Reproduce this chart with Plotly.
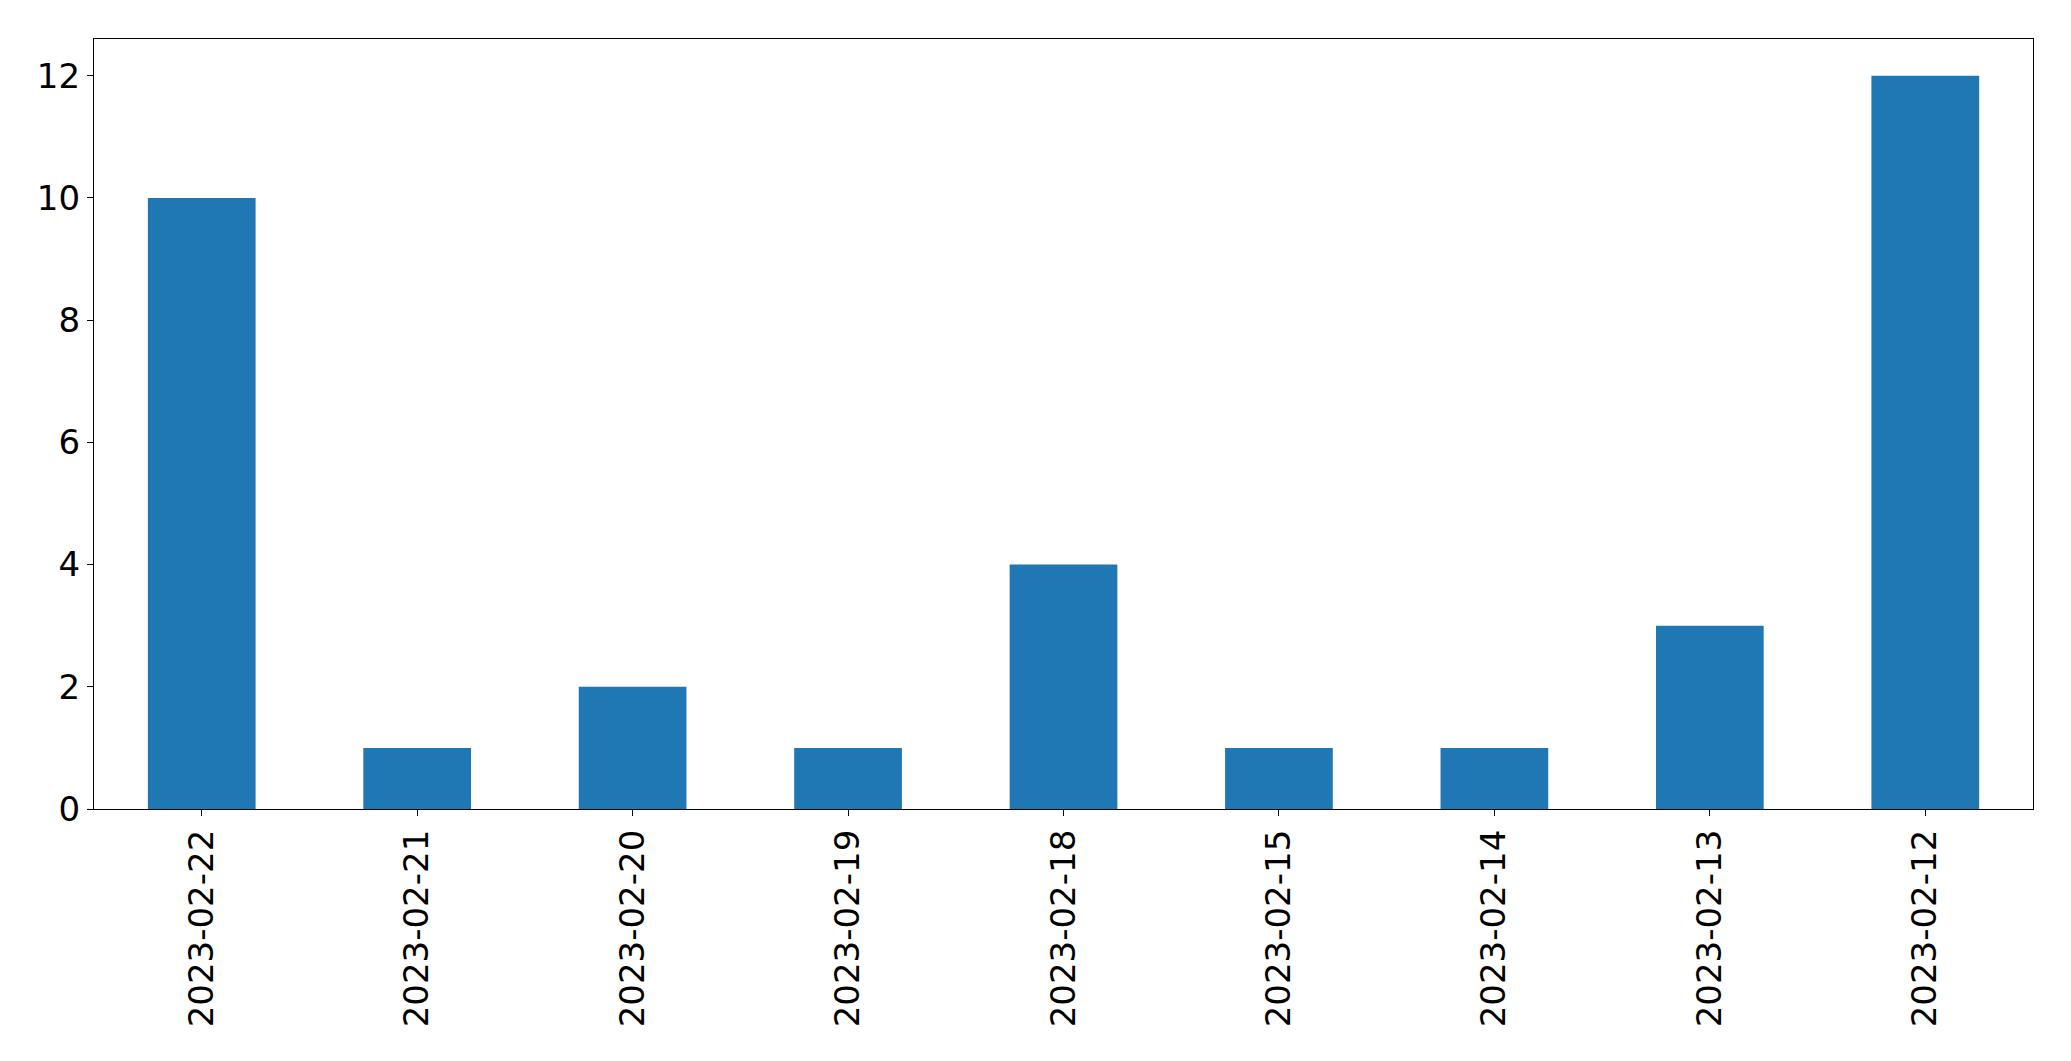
import plotly.graph_objects as go

dates = ["2023-02-22", "2023-02-21", "2023-02-20", "2023-02-19", "2023-02-18",
         "2023-02-15", "2023-02-14", "2023-02-13", "2023-02-12"]
counts = [10, 1, 2, 1, 4, 1, 1, 3, 12]
y_ticks = [0, 2, 4, 6, 8, 10, 12]

fig = go.Figure(go.Bar(x=dates, y=counts, marker=dict(color="#1f77b4", line=dict(width=0)), width=0.5))

fig.update_layout(
    width=2071, height=1061,
    margin=dict(l=94, r=38, t=39, b=252),
    plot_bgcolor="white", paper_bgcolor="white",
    font=dict(family="DejaVu Sans", size=34, color="black"),
    showlegend=False,
)
fig.update_xaxes(
    type="category", range=[-0.5, 8.5], tickangle=-90,
    showline=True, linecolor="black", linewidth=1.3, mirror=True,
    ticks="outside", ticklen=6, tickwidth=1.3, tickcolor="black",
    showgrid=False, zeroline=False,
)
fig.update_yaxes(
    range=[0, 12.6], tickvals=y_ticks,
    showline=True, linecolor="black", linewidth=1.3, mirror=True,
    ticks="outside", ticklen=6, tickwidth=1.3, tickcolor="black",
    showgrid=False, zeroline=False,
)
fig.write_html("out.html")
